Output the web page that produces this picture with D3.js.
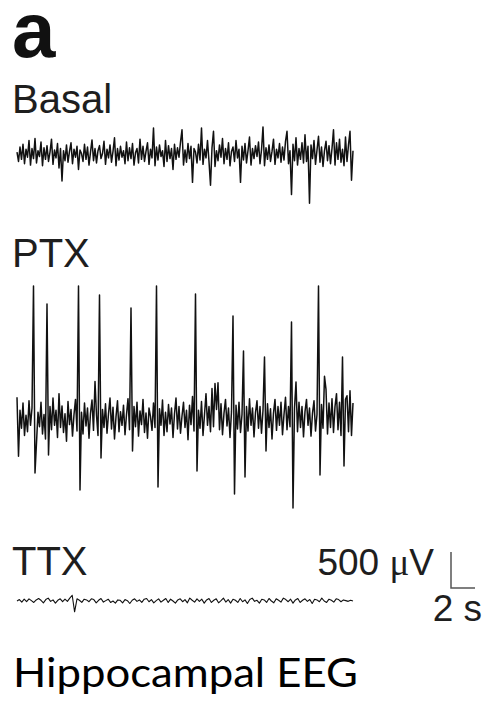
<!DOCTYPE html>
<html>
<head>
<meta charset="utf-8">
<script src="https://cdn.jsdelivr.net/npm/d3@7"></script>
<style>
  body { margin: 0; background: #fff; }
  text { font-family: "Liberation Sans", Arial, sans-serif; fill: #1e1e1e; }
</style>
</head>
<body>
<script>
// EEG traces, values in µV.
// Basal and PTX sampled every 0.125 s, TTX every 0.2 s (28 s in all)
const basal = [
  40, -90, 110, -60, 150, -120, 80, -30, 200, -140, 90, -50, 230, -110, 60,
  -20, 180, -150, 100, -60, 130, -90, 40, 220, -130, 70, -40, 160, -180, 90,
  -360, 60, -80, 140, -100, 50, 170, -120, 80, -30, 120, -200, 70, 20, -90,
  150, -60, 110, -140, 40, 210, -80, 90, -110, 60, 130, -50, 20, 190, -130,
  80, -40, 140, -100, 50, 240, -150, 90, -70, 120, -30, 60, -120, 180, -80,
  100, -50, 160, -140, 30, 90, -110, 220, -60, 120, -90, 50, 170, -130, 80,
  -40, 375, -150, 110, -70, 140, -20, 60, -160, 200, -90, 130, -50, 90, -200,
  150, -60, 100, -30, 180, 350, -140, 70, -100, 160, -50, 120, -380, 90, 40,
  -110, 150, -70, 375, -130, 80, -40, 200, -90, -420, 100, 330, -160, 60, -80,
  140, -30, 230, -120, 90, -60, 170, -150, 50, 110, -90, 200, -40, 80, -380,
  120, -70, 160, -110, 60, 250, -140, 90, -50, 130, -20, 180, -120, 70, 390,
  -150, 100, -60, 140, -90, 50, 220, -130, 80, -40, 160, -100, 110, -70, 190,
  330, -120, 60, -550, 150, -80, 240, -140, 90, -60, 170, -110, 280, -90, 120,
  -670, 140, -50, 200, -130, 70, 260, -100, 110, -160, 60, 190, -80, 130, -120,
  90, 350, -140, 170, -60, 220, -100, 80, -150, 250, -90, 140, 330, -350, 60
];

const ptx = [
  330, -490, 150, -100, 250, -200, 80, -150, 280, -60, 180, 1875, -722, -300, 120,
  -80, 260, -180, 90, -250, 1625, -472, 200, -120, 320, -60, 150, -230, 380, -90,
  210, -160, 100, -280, 270, -50, 160, -210, 90, 300, -140, 1875, -958, 120, -180,
  250, -70, 180, -240, 110, 290, -130, 550, 80, -200, 1750, -514, 160, -90, 240,
  -170, 100, 320, -110, 190, -250, 60, 280, -150, 130, -60, 220, -190, 90, 310,
  -120, 1570, -417, 200, -80, 260, -210, 140, -50, 300, -160, 110, -240, 180, 60,
  -130, 250, -90, 1875, -917, 170, -60, 290, -200, 120, -150, 230, -40, 180, -230,
  100, 320, -110, 200, -170, 70, 260, -90, 150, -260, 220, -50, 340, -140, 1764,
  -694, 150, -100, 270, -200, 90, 380, -60, 200, -150, 450, -80, 520, 160, 530,
  -120, 240, -190, 110, 300, -70, 180, -230, 130, 1458, -1014, 220, -110, 260, -160,
  90, 972, -778, 200, -140, 310, -60, 180, -220, 120, 280, -100, 200, -170, 150,
  889, -417, 240, -90, 170, -250, 110, 300, -130, 200, -60, 260, -190, 90, 330,
  -120, 200, -80, 1375, -1208, 180, 540, -150, 260, -90, 200, -220, 130, 300, -60,
  180, -210, 110, 280, -140, 90, 1875, -750, 230, -100, 620, 440, -180, 250, -90,
  310, -160, 200, 380, -120, 260, -200, 889, -625, 300, 350, -150, 420, -200, 250
];

const ttx = [
  0, 20, -15, 25, -10, 30, 5, -20, 15, 35,
  10, -25, 20, 40, -5, 15, -30, 10, 30, -10,
  25, -5, 40, 80, -150, 30, 10, -20, 25, 15,
  -10, 30, 20, -25, 10, 35, -15, 5, 25, -20,
  0, -30, 15, 10, -25, 20, 5, -35, 10, 30,
  -5, 15, -20, 25, 35, -10, 20, -25, 5, 30,
  -15, 10, 35, -20, 25, 0, -30, 15, 30, -10,
  20, -25, 40, 10, -15, 30, -5, 25, -30, 15,
  35, -20, 10, 30, -25, 5, 40, -15, 20, -30,
  25, 10, -20, 35, -10, 15, -35, 20, 40, -5,
  10, -30, 25, 15, -20, 35, 0, -25, 30, 10,
  -15, 40, 20, -10, 25, -30, 15, 35, -20, 10,
  30, -5, 20, -35, 25, 15, -10, 40, 0, -20,
  25, 10, -15, 30, 20, -10, 15, 5, -5, 10,
  0
];

const traceNames = ["Basal", "PTX", "TTX"];
const scaleBar = { uV: 500, s: 2 };

const width = 487, height = 713;

const svg = d3.select("body")
    .append("svg")
    .attr("width", width)
    .attr("height", height);

// shared time axis
const x = d3.scaleLinear()
    .domain([0, 28])
    .range([17, 353]);

const traces = [
  { name: traceNames[0], values: basal, step: 0.125, center: 155, labelY: 113, size: 40, sw: 1.5 },
  { name: traceNames[1], values: ptx, step: 0.125, center: 421, labelY: 267, size: 40, sw: 1.5 },
  { name: traceNames[2], values: ttx, step: 0.2, center: 601, labelY: 575, size: 40, sw: 1.1 }
];

// panel letter
svg.append("text")
    .attr("x", 12)
    .attr("y", 57)
    .style("font-size", "78px")
    .style("font-weight", "bold")
    .style("fill", "#111")
    .text("a");

traces.forEach(tr => {
    const y = d3.scaleLinear()
        .domain([-1000, 1000])
        .range([tr.center + 72, tr.center - 72]);

    const line = d3.line()
        .x((d, i) => x(i * tr.step))
        .y(d => y(d));

    svg.append("path")
        .datum(tr.values)
        .attr("fill", "none")
        .attr("stroke", "#111")
        .attr("stroke-width", tr.sw)
        .attr("stroke-linejoin", "round")
        .attr("d", line);

    svg.append("text")
        .attr("x", 12)
        .attr("y", tr.labelY)
        .style("font-size", tr.size + "px")
        .text(tr.name);

    tr.y = y;
});

// scale bar (uses the TTX panel scales)
const yT = traces[2].y;
const barX = 451, barBottom = 588;
const barH = yT(0) - yT(scaleBar.uV);
const barW = x(scaleBar.s) - x(0);

svg.append("path")
    .attr("fill", "none")
    .attr("stroke", "#555")
    .attr("stroke-width", 1.5)
    .attr("d", `M${barX},${barBottom - barH}V${barBottom}H${barX + barW}`);

const uvLabel = svg.append("text")
    .attr("x", 434)
    .attr("y", 575)
    .attr("text-anchor", "end")
    .style("font-size", "37px");
uvLabel.append("tspan").text(scaleBar.uV + " ");
uvLabel.append("tspan").style("font-family", "'Liberation Serif', serif").text("\u03bc");
uvLabel.append("tspan").text("V");

svg.append("text")
    .attr("x", 482)
    .attr("y", 621)
    .attr("text-anchor", "end")
    .style("font-size", "37px")
    .text(scaleBar.s + " s");

// caption
svg.append("text")
    .attr("x", 13)
    .attr("y", 687)
    .attr("textLength", 345)
    .attr("lengthAdjust", "spacingAndGlyphs")
    .style("font-family", "Lato, 'Open Sans', sans-serif")
    .style("font-size", "41px")
    .style("fill", "#000")
    .text("Hippocampal EEG");
</script>
</body>
</html>
